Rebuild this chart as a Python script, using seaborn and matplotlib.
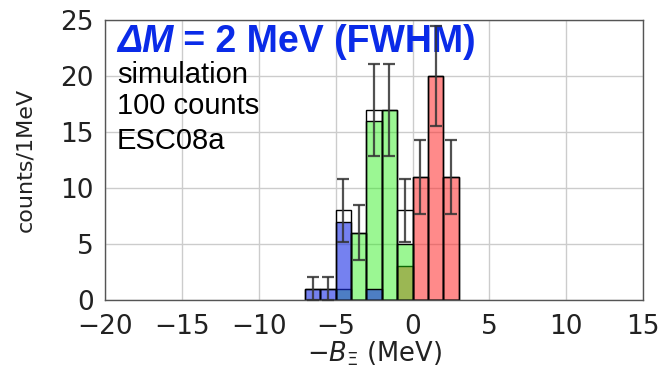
import numpy as np
import pandas as pd
import matplotlib
matplotlib.use("Agg")
import matplotlib.pyplot as plt
import seaborn as sns

# data: 1-MeV bins from -7 to 3
bin_left = [-7, -6, -5, -4, -3, -2, -1, 0, 1, 2]
blue_counts = [1, 1, 7, 0, 1, 0, 0, 0, 0, 0]
green_counts = [0, 0, 1, 6, 16, 17, 5, 0, 0, 0]
red_counts = [0, 0, 0, 0, 0, 0, 3, 11, 20, 11]
total_counts = [1, 1, 8, 6, 17, 17, 8, 11, 20, 11]
total_err = [1.0, 1.0, 2.83, 2.45, 4.12, 4.12, 2.83, 3.32, 4.47, 3.32]

xticks = [-20, -15, -10, -5, 0, 5, 10, 15]
yticks = [0, 5, 10, 15, 20, 25]

sns.set_style("whitegrid")
plt.rcParams['font.family'] = ['DejaVu Sans']

fig = plt.figure(figsize=(6.61, 3.72), dpi=100)
ax = fig.add_axes([0.159, 0.194, 0.814, 0.752])

edges = bin_left + [bin_left[-1] + 1]
centers = [b + 0.5 for b in bin_left]
df = pd.DataFrame({"x": centers, "blue": blue_counts, "green": green_counts,
                   "red": red_counts, "total": total_counts})

sns.histplot(data=df, x="x", weights="red", bins=edges, color="#ff2a2a", alpha=0.55,
             edgecolor="black", linewidth=1.0, ax=ax)
sns.histplot(data=df, x="x", weights="green", bins=edges, color="#22ee11", alpha=0.45,
             edgecolor="black", linewidth=1.0, ax=ax)
sns.histplot(data=df, x="x", weights="blue", bins=edges, color="#1a2ee6", alpha=0.6,
             edgecolor="black", linewidth=1.0, ax=ax)
sns.histplot(data=df, x="x", weights="total", bins=edges, fill=False,
             element="bars", color="black", linewidth=1.0, ax=ax)

ax.errorbar(df["x"], df["total"], yerr=total_err, fmt="none", ecolor="#333333",
            elinewidth=1.6, capsize=4, capthick=1.6, alpha=0.85, zorder=6,
            clip_on=False)

ax.set_xlim(-20, 15)
ax.set_ylim(0, 25)
ax.set_xticks(xticks)
ax.set_yticks(yticks)
ax.tick_params(axis="both", labelsize=19, direction="out", length=5, width=1.0,
               color="#444444", labelcolor="#222222", pad=3)
ax.tick_params(axis="x", pad=5)
ax.grid(True, color="#cccccc", linewidth=1.0)
for s in ax.spines.values():
    s.set_color("#555555")
    s.set_linewidth(1.0)
ax.set_xlabel(r"$-B_{\Xi}$ (MeV)", fontsize=18.5, color="#222222", labelpad=0)
ax.set_ylabel("counts/1MeV", fontsize=16, color="#222222", labelpad=18)

t1 = ax.text(117 / 661, 1 - 52 / 372, "\u0394M", transform=fig.transFigure,
             fontsize=27, fontweight="bold", fontstyle="italic", color="#0a2be8",
             family="Liberation Sans", ha="left", va="baseline", zorder=4)
fig.canvas.draw()
ax.annotate(" = 2 MeV (FWHM)", xy=(1, 0), xycoords=t1, fontsize=27,
            fontweight="bold", color="#0a2be8", family="Liberation Sans",
            ha="left", va="bottom", annotation_clip=False, zorder=4)
for txt, ybase in [("simulation", 83), ("100 counts", 114), ("ESC08a", 149)]:
    ax.text(117 / 661, 1 - ybase / 372, txt, transform=fig.transFigure,
            fontsize=21, color="black", family="Liberation Sans",
            ha="left", va="baseline", zorder=4)

fig.savefig("out.png", dpi=100)
